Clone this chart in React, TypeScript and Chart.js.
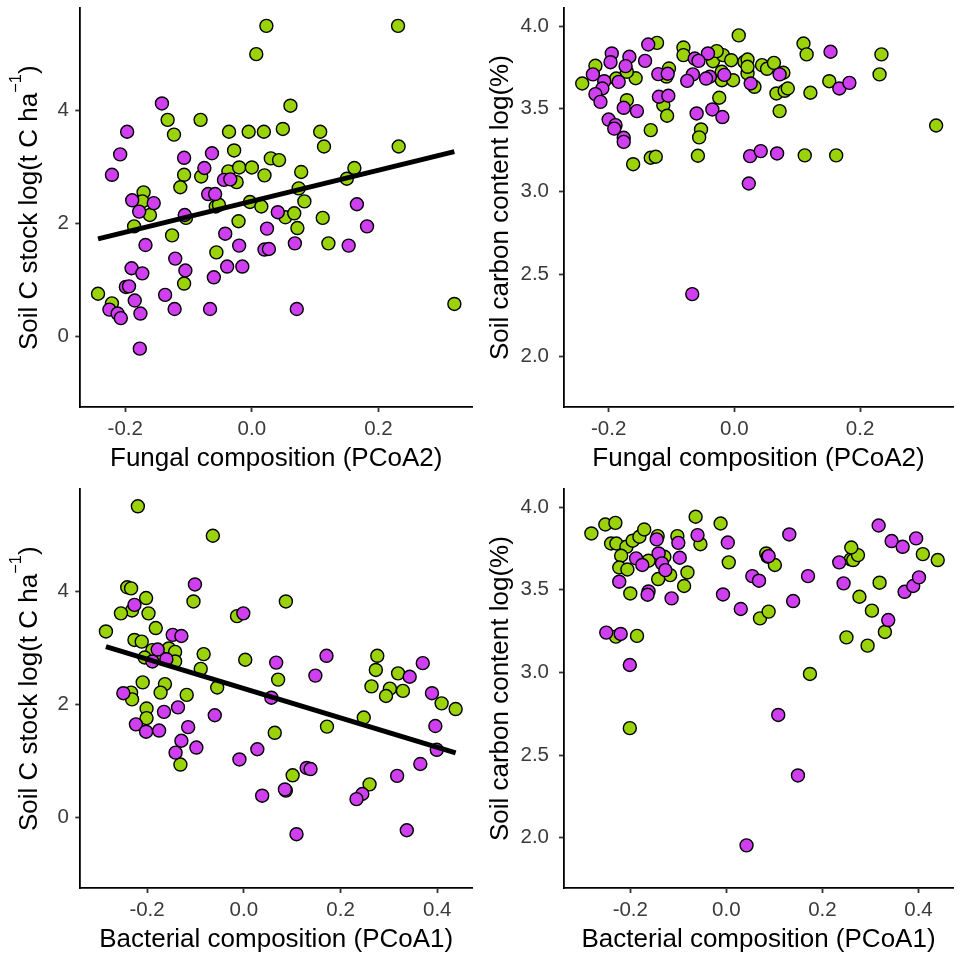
import { useEffect, useRef } from "react";
import { Chart, registerables } from "chart.js";

Chart.register(...registerables);

const FONT = "'Liberation Sans', Arial, Helvetica, sans-serif";
const GREEN = "#9BD30A";
const PURPLE = "#CF3FF0";

// Axis ticks
const fungalTicks = [-0.2, 0, 0.2];
const bacterialTicks = [-0.2, 0, 0.2, 0.4];
const stockTicks = [0, 2, 4];
const contentTicks = [2.0, 2.5, 3.0, 3.5, 4.0];

// Axis limits
const fungalRange = [-0.271, 0.348];
const bacterialRange = [-0.338, 0.472];
const stockRange = [-1.24, 5.8];
const contentRange = [1.696, 4.108];

// Soil C stock vs fungal composition
const fungalStockGreenX = [0.023, 0.231, 0.007, 0.061, -0.133, -0.081, -0.123, -0.036, -0.005, 0.019, 0.049, 0.108, 0.114, 0.232, -0.028, 0.030, 0.043, -0.107, -0.080, -0.113, -0.037, -0.020, 0.000, -0.024, 0.020, 0.078, 0.162, 0.150, 0.074, 0.083, -0.171, -0.173, -0.161, -0.057, -0.052, -0.003, 0.015, -0.104, -0.021, 0.053, 0.067, 0.072, 0.112, -0.186, -0.126, -0.056, 0.121, -0.107, -0.243, -0.221, 0.320];
const fungalStockGreenY = [5.49, 5.49, 4.99, 4.08, 3.83, 3.83, 3.57, 3.62, 3.62, 3.62, 3.67, 3.62, 3.36, 3.36, 3.29, 3.15, 3.12, 2.86, 2.83, 2.64, 2.92, 2.99, 2.99, 2.73, 2.85, 2.91, 2.98, 2.79, 2.62, 2.39, 2.55, 2.39, 2.15, 2.30, 2.33, 2.38, 2.30, 2.10, 2.04, 2.11, 2.18, 1.92, 2.10, 1.95, 1.79, 1.49, 1.65, 0.94, 0.76, 0.59, 0.58];
const fungalStockPurpleX = [-0.142, -0.197, -0.208, -0.221, -0.107, -0.063, -0.075, -0.044, -0.034, -0.069, -0.058, -0.189, -0.155, -0.178, -0.106, 0.041, -0.168, -0.042, 0.024, -0.020, 0.020, 0.027, -0.121, -0.105, -0.190, -0.173, -0.039, -0.015, -0.060, -0.199, -0.194, -0.225, -0.212, -0.207, -0.185, -0.176, -0.137, -0.122, -0.066, -0.177, 0.166, 0.182, 0.068, 0.153, 0.071];
const fungalStockPurpleY = [4.12, 3.62, 3.22, 2.86, 3.16, 3.24, 2.98, 2.77, 2.78, 2.52, 2.52, 2.41, 2.36, 2.21, 2.15, 2.20, 1.62, 1.82, 1.91, 1.61, 1.54, 1.55, 1.38, 1.17, 1.21, 1.12, 1.24, 1.24, 1.05, 0.88, 0.89, 0.48, 0.41, 0.33, 0.64, 0.41, 0.74, 0.49, 0.49, -0.21, 2.34, 1.95, 1.65, 1.61, 0.49];
const fungalStockFit = [2.394, 2.736]; // intercept, slope

// Soil carbon content vs fungal composition
const fungalContentGreenX = [0.007, -0.123, -0.081, -0.081, -0.221, -0.242, -0.188, -0.157, -0.171, -0.171, -0.133, -0.161, -0.133, -0.125, -0.104, -0.108, -0.113, -0.107, -0.024, -0.053, -0.056, -0.058, -0.034, -0.018, -0.028, -0.005, -0.020, -0.002, -0.020, 0.032, 0.021, 0.016, 0.021, 0.021, 0.044, 0.110, 0.115, 0.234, 0.231, 0.052, 0.063, 0.078, 0.067, 0.080, 0.085, 0.121, 0.151, 0.072, 0.321, 0.112, 0.162];
const fungalContentGreenY = [3.944, 3.899, 3.871, 3.825, 3.760, 3.653, 3.683, 3.685, 3.724, 3.552, 3.371, 3.165, 3.204, 3.210, 3.744, 3.695, 3.522, 3.458, 3.567, 3.375, 3.327, 3.216, 3.788, 3.825, 3.849, 3.794, 3.673, 3.673, 3.724, 3.633, 3.714, 3.784, 3.798, 3.754, 3.764, 3.895, 3.829, 3.829, 3.708, 3.742, 3.778, 3.718, 3.593, 3.609, 3.623, 3.597, 3.667, 3.486, 3.399, 3.218, 3.218];
const fungalContentPurpleX = [-0.137, -0.195, -0.197, -0.167, -0.173, -0.142, -0.225, -0.207, -0.210, -0.221, -0.213, -0.184, -0.200, -0.189, -0.191, -0.176, -0.176, -0.176, -0.155, -0.121, -0.106, -0.120, -0.105, -0.060, -0.035, -0.019, -0.063, -0.042, -0.057, -0.066, -0.075, -0.039, -0.045, -0.016, 0.026, 0.025, 0.042, 0.153, 0.072, 0.167, 0.183, 0.068, 0.023, -0.067];
const fungalContentPurpleY = [3.889, 3.835, 3.782, 3.815, 3.758, 3.790, 3.708, 3.667, 3.623, 3.589, 3.542, 3.663, 3.435, 3.401, 3.380, 3.325, 3.300, 3.506, 3.486, 3.710, 3.712, 3.573, 3.579, 3.472, 3.496, 3.450, 3.804, 3.835, 3.790, 3.708, 3.669, 3.694, 3.683, 3.705, 3.653, 3.214, 3.244, 3.845, 3.708, 3.623, 3.657, 3.230, 3.048, 2.379];

// Soil C stock vs bacterial composition
const bacterialStockGreenX = [-0.219, -0.064, -0.241, -0.233, -0.104, 0.087, -0.202, -0.231, -0.254, -0.197, -0.182, -0.285, -0.014, -0.226, -0.211, -0.155, -0.142, -0.189, -0.205, -0.172, -0.142, -0.083, -0.089, 0.003, -0.055, -0.209, -0.163, -0.172, -0.233, -0.231, -0.118, -0.201, -0.201, -0.131, 0.064, 0.071, 0.276, 0.273, 0.264, 0.319, 0.302, 0.294, 0.329, 0.409, 0.438, 0.248, 0.172, 0.101, 0.260];
const bacterialStockGreenY = [5.50, 4.98, 4.07, 4.05, 3.82, 3.82, 3.88, 3.66, 3.61, 3.61, 3.35, 3.29, 3.56, 3.14, 3.11, 2.99, 2.93, 2.96, 2.83, 2.83, 2.76, 2.89, 2.63, 2.79, 2.30, 2.39, 2.36, 2.21, 2.21, 2.09, 2.17, 1.93, 1.76, 0.94, 1.50, 2.44, 2.86, 2.61, 2.32, 2.55, 2.28, 2.15, 2.24, 2.02, 1.92, 1.77, 1.61, 0.75, 0.59];
const bacterialStockPurpleX = [-0.101, -0.226, -0.001, -0.147, -0.129, -0.178, -0.189, -0.160, 0.067, 0.057, -0.249, -0.165, -0.136, -0.060, -0.223, -0.202, -0.175, -0.115, -0.129, -0.141, -0.098, -0.009, 0.028, 0.171, 0.148, 0.343, 0.370, 0.389, 0.396, 0.399, 0.365, 0.317, 0.130, 0.138, 0.087, 0.085, 0.038, 0.245, 0.233, 0.109, 0.337];
const bacterialStockPurpleY = [4.12, 3.76, 3.61, 3.23, 3.21, 2.97, 2.76, 2.80, 2.74, 2.12, 2.20, 1.87, 1.95, 1.81, 1.65, 1.52, 1.54, 1.60, 1.36, 1.15, 1.24, 1.03, 1.21, 2.86, 2.51, 2.49, 2.73, 2.20, 1.62, 1.20, 0.95, 0.74, 0.88, 0.86, 0.48, 0.50, 0.39, 0.42, 0.33, -0.29, -0.22];
const bacterialStockFit = [2.283, -2.595]; // intercept, slope

// Soil carbon content vs bacterial composition
const bacterialContentGreenX = [-0.281, -0.252, -0.231, -0.240, -0.229, -0.208, -0.195, -0.181, -0.171, -0.143, -0.102, -0.054, -0.064, -0.012, 0.005, -0.219, -0.162, -0.129, -0.117, -0.081, -0.088, -0.142, -0.223, -0.206, -0.200, -0.230, -0.186, -0.201, 0.070, 0.088, 0.083, 0.086, 0.101, 0.174, 0.259, 0.264, 0.274, 0.260, 0.277, 0.303, 0.250, 0.294, 0.319, 0.409, 0.440, 0.330];
const bacterialContentGreenY = [3.841, 3.895, 3.905, 3.780, 3.780, 3.760, 3.797, 3.821, 3.865, 3.825, 3.825, 3.776, 3.942, 3.901, 3.666, 3.706, 3.676, 3.700, 3.589, 3.605, 3.523, 3.565, 3.635, 3.623, 3.478, 3.217, 3.221, 2.663, 3.327, 3.368, 3.720, 3.700, 3.650, 2.991, 3.684, 3.680, 3.710, 3.756, 3.458, 3.374, 3.212, 3.162, 3.543, 3.716, 3.680, 3.245];
const bacterialContentPurpleX = [-0.223, -0.250, -0.220, -0.201, -0.145, -0.100, -0.060, 0.003, -0.188, -0.175, -0.141, -0.134, -0.127, -0.097, -0.162, -0.164, -0.114, -0.007, 0.030, 0.054, 0.068, 0.088, 0.131, 0.139, 0.170, 0.108, 0.149, 0.042, 0.235, 0.244, 0.317, 0.344, 0.367, 0.395, 0.371, 0.389, 0.401, 0.337];
const bacterialContentPurpleY = [3.549, 3.241, 3.233, 3.045, 3.805, 3.784, 3.831, 3.786, 3.690, 3.650, 3.720, 3.660, 3.619, 3.694, 3.490, 3.470, 3.448, 3.472, 3.384, 3.583, 3.555, 3.704, 3.835, 3.432, 3.583, 2.743, 2.377, 1.954, 3.666, 3.539, 3.889, 3.795, 3.760, 3.811, 3.488, 3.523, 3.575, 3.317];

type Seg = { text: string; sup?: boolean };

type PanelProps = {
  left: number;
  top: number;
  width: number;
  height: number;
  axisWidth: number;
  labelPad: number;
  titleBaseline: number;
  xRange: number[];
  yRange: number[];
  xTicks: number[];
  yTicks: number[];
  yDigits: number;
  xTitle: string;
  yTitle: Seg[];
  greenX: number[];
  greenY: number[];
  purpleX: number[];
  purpleY: number[];
  fit?: number[];
};

const stockTitle: Seg[] = [
  { text: "Soil C stock log(t C ha" },
  { text: "\u22121", sup: true },
  { text: ")" },
];
const contentTitle: Seg[] = [{ text: "Soil carbon content log(%)" }];

function pointSet(xs: number[], ys: number[], color: string, order: number) {
  return {
    type: "scatter" as const,
    data: xs.map((x, i) => ({ x, y: ys[i] })),
    backgroundColor: color,
    borderColor: "#000000",
    borderWidth: 1.4,
    pointRadius: 6.5,
    pointHoverRadius: 6.5,
    order,
  };
}

function Panel(p: PanelProps) {
  const ref = useRef<HTMLCanvasElement>(null);

  useEffect(() => {
    const canvas = ref.current;
    if (!canvas) return;

    const datasets: any[] = [];
    if (p.fit) {
      const xs = [...p.greenX, ...p.purpleX];
      const x0 = Math.min(...xs);
      const x1 = Math.max(...xs);
      datasets.push({
        type: "line",
        data: [
          { x: x0, y: p.fit[0] + p.fit[1] * x0 },
          { x: x1, y: p.fit[0] + p.fit[1] * x1 },
        ],
        borderColor: "#000000",
        borderWidth: 5,
        pointRadius: 0,
        fill: false,
        order: 0,
      });
    }
    datasets.push(pointSet(p.purpleX, p.purpleY, PURPLE, 1));
    datasets.push(pointSet(p.greenX, p.greenY, GREEN, 2));

    // rotated y-axis title with superscript support
    const yTitlePlugin = {
      id: "yTitleRich",
      afterDraw(chart: any) {
        const { ctx, chartArea } = chart;
        const mainFont = `26px ${FONT}`;
        const supFont = `16.5px ${FONT}`;
        ctx.save();
        let total = 0;
        const widths = p.yTitle.map((s) => {
          ctx.font = s.sup ? supFont : mainFont;
          const w = ctx.measureText(s.text).width;
          total += w;
          return w;
        });
        ctx.translate(p.titleBaseline, (chartArea.top + chartArea.bottom) / 2);
        ctx.rotate(-Math.PI / 2);
        ctx.fillStyle = "#000000";
        ctx.textAlign = "left";
        ctx.textBaseline = "alphabetic";
        let x = -total / 2;
        p.yTitle.forEach((s, i) => {
          ctx.font = s.sup ? supFont : mainFont;
          ctx.fillText(s.text, x, s.sup ? -16 : 0);
          x += widths[i];
        });
        ctx.restore();
      },
    };

    const tickFont = { family: FONT, size: 20.5 };
    const gridOpts = {
      display: true,
      drawOnChartArea: false,
      drawTicks: true,
      tickLength: 5,
      tickColor: "#333333",
      tickWidth: 1.8,
    };
    const borderOpts = { display: true, color: "#000000", width: 1.8 };

    const chart = new Chart(canvas, {
      type: "scatter",
      data: { datasets },
      plugins: [yTitlePlugin],
      options: {
        responsive: false,
        animation: false,
        devicePixelRatio: 1,
        layout: { padding: { top: 8.3, left: 0, right: 0, bottom: 0 } },
        plugins: { legend: { display: false }, tooltip: { enabled: false } },
        scales: {
          x: {
            type: "linear",
            position: "bottom",
            min: p.xRange[0],
            max: p.xRange[1],
            afterBuildTicks: (s: any) => {
              s.ticks = p.xTicks.map((v) => ({ value: v }));
            },
            afterFit: (s: any) => {
              s.height = 72;
              s.paddingLeft = 0;
              s.paddingRight = 0;
              s.paddingTop = 0;
              s.paddingBottom = 0;
            },
            grid: gridOpts,
            border: borderOpts,
            ticks: {
              color: "#3A3A3A",
              font: tickFont,
              padding: 5.3,
              maxRotation: 0,
              autoSkip: false,
              callback: (v: any) => Number(v).toFixed(1),
            },
            title: {
              display: true,
              text: p.xTitle,
              color: "#000000",
              font: { family: FONT, size: 26, lineHeight: 1 },
              padding: { top: 0, bottom: 7 },
            },
          },
          y: {
            type: "linear",
            position: "left",
            min: p.yRange[0],
            max: p.yRange[1],
            afterBuildTicks: (s: any) => {
              s.ticks = p.yTicks.map((v) => ({ value: v }));
            },
            afterFit: (s: any) => {
              s.width = p.axisWidth;
              s.paddingLeft = 0;
              s.paddingRight = 0;
              s.paddingTop = 0;
              s.paddingBottom = 0;
            },
            grid: gridOpts,
            border: borderOpts,
            ticks: {
              color: "#3A3A3A",
              font: tickFont,
              padding: p.labelPad,
              autoSkip: false,
              callback: (v: any) => Number(v).toFixed(p.yDigits),
            },
            title: { display: false },
          },
        },
      } as any,
    });

    return () => chart.destroy();
  }, []);

  return (
    <canvas
      ref={ref}
      width={p.width}
      height={p.height}
      style={{
        position: "absolute",
        left: p.left,
        top: p.top,
        width: p.width,
        height: p.height,
      }}
    />
  );
}

export default function App() {
  return (
    <div
      style={{
        position: "absolute",
        left: 0,
        top: 0,
        width: 961,
        height: 958,
        overflow: "hidden",
        background: "#ffffff",
      }}
    >
      <Panel
        left={0}
        top={0}
        width={480}
        height={479}
        axisWidth={80.3}
        labelPad={6.5}
        titleBaseline={36.5}
        xRange={fungalRange}
        yRange={stockRange}
        xTicks={fungalTicks}
        yTicks={stockTicks}
        yDigits={0}
        xTitle="Fungal composition (PCoA2)"
        yTitle={stockTitle}
        greenX={fungalStockGreenX}
        greenY={fungalStockGreenY}
        purpleX={fungalStockPurpleX}
        purpleY={fungalStockPurpleY}
        fit={fungalStockFit}
      />
      <Panel
        left={480}
        top={0}
        width={481}
        height={479}
        axisWidth={84}
        labelPad={10}
        titleBaseline={28.3}
        xRange={fungalRange}
        yRange={contentRange}
        xTicks={fungalTicks}
        yTicks={contentTicks}
        yDigits={1}
        xTitle="Fungal composition (PCoA2)"
        yTitle={contentTitle}
        greenX={fungalContentGreenX}
        greenY={fungalContentGreenY}
        purpleX={fungalContentPurpleX}
        purpleY={fungalContentPurpleY}
      />
      <Panel
        left={0}
        top={481}
        width={480}
        height={479}
        axisWidth={80.3}
        labelPad={6.5}
        titleBaseline={36.5}
        xRange={bacterialRange}
        yRange={stockRange}
        xTicks={bacterialTicks}
        yTicks={stockTicks}
        yDigits={0}
        xTitle="Bacterial composition (PCoA1)"
        yTitle={stockTitle}
        greenX={bacterialStockGreenX}
        greenY={bacterialStockGreenY}
        purpleX={bacterialStockPurpleX}
        purpleY={bacterialStockPurpleY}
        fit={bacterialStockFit}
      />
      <Panel
        left={480}
        top={481}
        width={481}
        height={479}
        axisWidth={84}
        labelPad={10}
        titleBaseline={28.3}
        xRange={bacterialRange}
        yRange={contentRange}
        xTicks={bacterialTicks}
        yTicks={contentTicks}
        yDigits={1}
        xTitle="Bacterial composition (PCoA1)"
        yTitle={contentTitle}
        greenX={bacterialContentGreenX}
        greenY={bacterialContentGreenY}
        purpleX={bacterialContentPurpleX}
        purpleY={bacterialContentPurpleY}
      />
    </div>
  );
}
